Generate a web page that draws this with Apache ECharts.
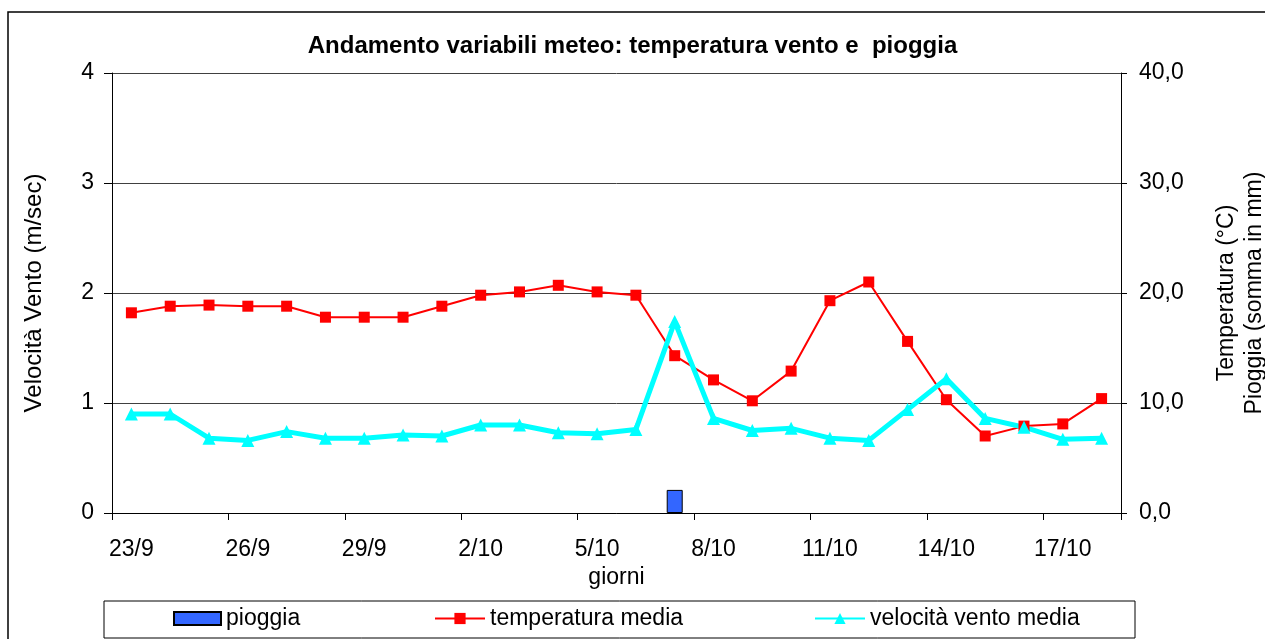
<!DOCTYPE html>
<html>
<head>
<meta charset="utf-8">
<script src="https://cdn.jsdelivr.net/npm/echarts@6/dist/echarts.min.js"></script>
<style>
  html, body { margin: 0; padding: 0; background: #fff; }
  #chart { width: 1265px; height: 639px; }
</style>
</head>
<body>
<div id="chart"></div>
<script>
// giorni
const giorni = ['23/9', '24/9', '25/9', '26/9', '27/9', '28/9', '29/9', '30/9',
  '1/10', '2/10', '3/10', '4/10', '5/10', '6/10', '7/10', '8/10', '9/10', '10/10',
  '11/10', '12/10', '13/10', '14/10', '15/10', '16/10', '17/10', '18/10'];
// pioggia (mm)
const pioggia = [0, 0, 0, 0, 0, 0, 0, 0, 0, 0, 0, 0, 0, 0, 2.1, 0, 0, 0, 0, 0, 0, 0, 0, 0, 0, 0];
// temperatura media (°C)
const temperatura = [18.2, 18.8, 18.9, 18.8, 18.8, 17.8, 17.8, 17.8, 18.8, 19.8, 20.1, 20.7, 20.1,
  19.8, 14.3, 12.1, 10.2, 12.9, 19.3, 21.0, 15.6, 10.3, 7.0, 7.9, 8.1, 10.4];
// velocità vento media (m/sec)
const vento = [0.90, 0.90, 0.68, 0.66, 0.74, 0.68, 0.68, 0.71, 0.70, 0.80, 0.80, 0.73, 0.72,
  0.76, 1.74, 0.86, 0.75, 0.77, 0.68, 0.66, 0.94, 1.22, 0.86, 0.78, 0.67, 0.68];

const font = '"Liberation Sans", Arial, sans-serif';
const legendText = { fontFamily: font, fontSize: 23, color: '#000' };

const chart = echarts.init(document.getElementById('chart'));
chart.setOption({
  animation: false,
  backgroundColor: '#fff',
  textStyle: { fontFamily: font, color: '#000' },
  title: {
    text: 'Andamento variabili meteo: temperatura vento e  pioggia',
    left: 'center',
    top: 29,
    textStyle: { fontFamily: font, fontSize: 24, fontWeight: 'bold', color: '#000' }
  },
  graphic: [
    {
      type: 'rect',
      shape: { x: 8, y: 12, width: 1280, height: 660 },
      style: { fill: 'none', stroke: '#000', lineWidth: 1.5 },
      silent: true
    },
    {
      type: 'rect',
      shape: { x: 104, y: 601, width: 1031, height: 37 },
      style: { fill: 'none', stroke: '#000', lineWidth: 1 },
      silent: true
    }
  ],
  legend: [
    {
      data: [{ name: 'pioggia', icon: 'rect' }], left: 173, top: 607, padding: 0,
      itemWidth: 47, itemHeight: 13, itemGap: 0, textStyle: legendText
    },
    {
      data: ['temperatura media'], left: 434, top: 607, padding: 0,
      itemWidth: 50, itemHeight: 14, textStyle: legendText
    },
    {
      data: ['velocità vento media'], left: 814, top: 607, padding: 0,
      itemWidth: 50, itemHeight: 14, textStyle: legendText
    }
  ],
  grid: { left: 112, right: 144, top: 73, bottom: 126, outerBoundsMode: 'none', containLabel: false },
  xAxis: {
    type: 'category',
    data: giorni,
    boundaryGap: true,
    name: 'giorni',
    nameLocation: 'middle',
    nameGap: 42,
    nameTextStyle: { fontFamily: font, fontSize: 23, color: '#000' },
    axisLine: { lineStyle: { color: '#000', width: 1 } },
    axisTick: { show: true, interval: 2, length: 7, lineStyle: { color: '#000', width: 1 } },
    axisLabel: { interval: 2, margin: 25, fontFamily: font, fontSize: 23, color: '#000' },
    splitLine: { show: false }
  },
  yAxis: [
    {
      type: 'value',
      min: 0, max: 4, interval: 1,
      position: 'left',
      name: 'Velocità Vento (m/sec)',
      nameLocation: 'middle',
      nameRotate: 90,
      nameGap: 66,
      nameTextStyle: { fontFamily: font, fontSize: 24, color: '#000' },
      axisLine: { show: true, lineStyle: { color: '#000', width: 1 } },
      axisTick: { show: true, length: 8, lineStyle: { color: '#000' } },
      axisLabel: { margin: 18, fontFamily: font, fontSize: 23, color: '#000' },
      splitLine: { show: true, lineStyle: { color: '#404040', width: 1 } }
    },
    {
      type: 'value',
      min: 0, max: 40, interval: 10,
      position: 'right',
      name: 'Temperatura (°C)\nPioggia (somma in mm)',
      nameLocation: 'middle',
      nameRotate: 90,
      nameGap: 92,
      nameTextStyle: { fontFamily: font, fontSize: 23, lineHeight: 28, color: '#000', align: 'center' },
      axisLine: { show: true, lineStyle: { color: '#000', width: 1 } },
      axisTick: { show: true, length: 6, lineStyle: { color: '#000' } },
      axisLabel: {
        margin: 18, fontFamily: font, fontSize: 23, color: '#000',
        formatter: v => v.toFixed(1).replace('.', ',')
      },
      splitLine: { show: false }
    }
  ],
  series: [
    {
      name: 'pioggia',
      type: 'bar',
      yAxisIndex: 1,
      // giorni senza pioggia: nessuna barra
      data: pioggia.map(v => (v === 0 ? null : v)),
      barWidth: 16,
      itemStyle: { color: '#3366FF', borderColor: '#000', borderWidth: 1 }
    },
    {
      name: 'temperatura media',
      type: 'line',
      yAxisIndex: 1,
      data: temperatura,
      symbol: 'rect',
      symbolSize: 11,
      lineStyle: { color: '#FF0000', width: 2 },
      itemStyle: { color: '#FF0000' }
    },
    {
      name: 'velocità vento media',
      type: 'line',
      yAxisIndex: 0,
      data: vento,
      symbol: 'triangle',
      symbolSize: 13,
      lineStyle: { color: '#00FFFF', width: 5 },
      itemStyle: { color: '#00FFFF' }
    }
  ]
});
</script>
</body>
</html>
